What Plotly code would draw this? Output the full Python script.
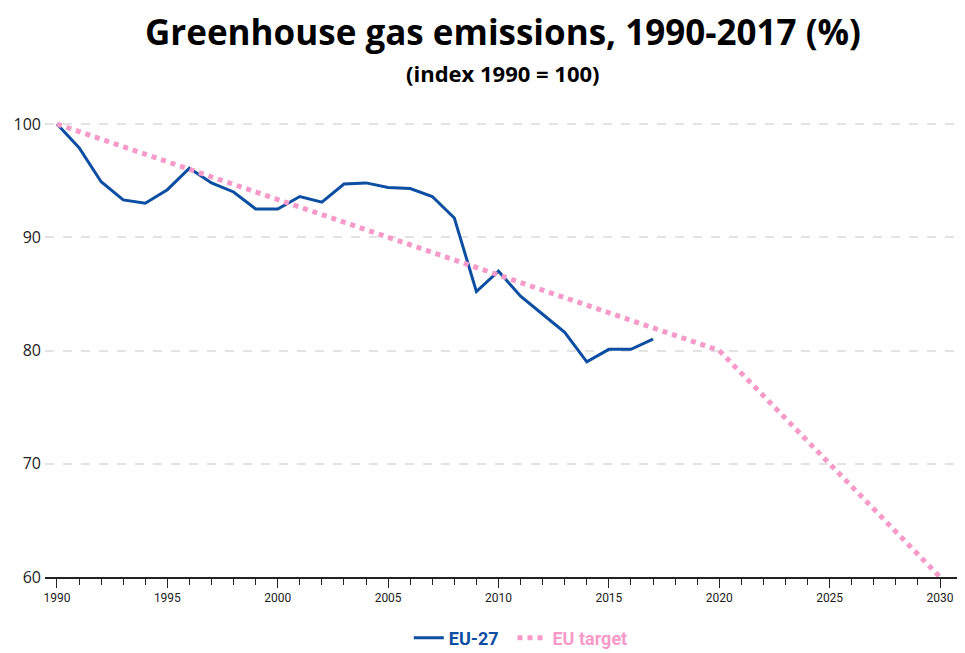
import plotly.graph_objects as go

years_eu = list(range(1990, 2018))
eu27 = [100.0, 97.9, 94.9, 93.3, 93.0, 94.2, 96.1, 94.8, 94.0, 92.5,
        92.5, 93.6, 93.1, 94.7, 94.8, 94.4, 94.3, 93.6, 91.7, 85.2,
        87.0, 84.8, 83.2, 81.6, 79.0, 80.1, 80.1, 81.0]
years_target = [1990, 2020, 2030]
eu_target = [100, 80, 60]

BLUE = "#0b4ea2"
PINK = "#f79ac9"

W, H = 957, 645
L, R, T, B = 37, 5, 92, 76
PH = H - T - B

fig = go.Figure()
fig.add_trace(go.Scatter(
    x=years_eu, y=eu27, mode="lines",
    line=dict(color=BLUE, width=3),
    name=f"<span style='color:{BLUE}'><b>EU-27</b></span>&nbsp;&nbsp;",
))
fig.add_trace(go.Scatter(
    x=years_target, y=eu_target, mode="lines",
    line=dict(color=PINK, width=5, dash="dot"),
    name=f"<span style='color:{PINK}'><b>EU target</b></span>",
))

fig.update_layout(
    width=W, height=H,
    margin=dict(l=L, r=R, t=T, b=B, autoexpand=False),
    paper_bgcolor="white", plot_bgcolor="white",
    showlegend=True,
    legend=dict(orientation="h", x=0.52, xanchor="center",
                y=15 / H, yref="container", yanchor="middle",
                font=dict(family="Roboto, sans-serif", size=18),
                traceorder="normal"),
)
fig.add_annotation(text="<b>Greenhouse gas emissions, 1990-2017 (%)</b>",
                   x=0.5, xref="paper", y=1 + (T - 24) / PH, yref="paper",
                   showarrow=False, yanchor="middle",
                   font=dict(family="Open Sans, sans-serif", size=35, color="black"))
fig.add_annotation(text="<b>(index 1990 = 100)</b>",
                   x=0.5, xref="paper", y=1 + (T - 65) / PH, yref="paper",
                   showarrow=False, yanchor="middle",
                   font=dict(family="Open Sans, sans-serif", size=22, color="black"))

fig.update_xaxes(
    range=[1989.457, 2030.906], automargin=False,
    tickmode="linear", tick0=1990, dtick=5,
    ticks="outside", ticklen=9, tickwidth=1.3, tickcolor="#222",
    showline=True, linecolor="#222", linewidth=1.6,
    showgrid=False, zeroline=False,
    tickfont=dict(family="Roboto, sans-serif", size=12, color="#222"),
    minor=dict(dtick=1, tick0=1990, ticks="outside", ticklen=6, tickwidth=1.1, tickcolor="#222", showgrid=False),
)
fig.update_yaxes(
    range=[60, 102.12], automargin=False,
    tickmode="array", tickvals=[60, 70, 80, 90, 100],
    ticktext=["60", "70", "80", "90", "100"],
    showgrid=True, gridcolor="#e3e3e3", griddash="dash", gridwidth=1.5,
    showline=False, zeroline=False, ticks="",
    tickfont=dict(family="Open Sans, sans-serif", size=16, color="#222"),
    ticklabelstandoff=3,
)

fig.write_html("out.html")
